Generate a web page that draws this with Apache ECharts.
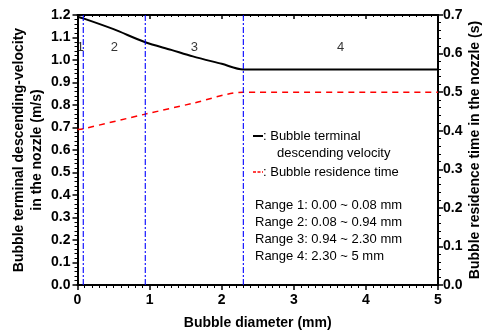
<!DOCTYPE html>
<html>
<head>
<meta charset="utf-8">
<script src="https://cdn.jsdelivr.net/npm/echarts@6/dist/echarts.min.js"></script>
<style>
  html, body { margin: 0; padding: 0; background: #fff; }
  #chart { width: 488px; height: 336px; }
</style>
</head>
<body>
<div id="chart"></div>
<script>
// Bubble diameter (mm) vs terminal descending velocity (m/s)
const velocityPoints = [
  [0, 1.192], [0.08, 1.185], [0.5, 1.137], [0.94, 1.079],
  [1.3, 1.045], [1.6, 1.016], [2.0, 0.983], [2.3, 0.958], [5, 0.958]
];
// Bubble diameter (mm) vs residence time in the nozzle (s)
const residencePoints = [
  [0, 0.403], [0.08, 0.405], [0.94, 0.443], [1.6, 0.471], [2.3, 0.5], [5, 0.5]
];
// Boundaries between diameter ranges (mm)
const rangeBounds = [0.08, 0.94, 2.3];
const rangeNames = ['1', '2', '3', '4'];
const rangeLabelY = 1.057;
const rangeLines = [
  'Range 1: 0.00 ~ 0.08 mm',
  'Range 2: 0.08 ~ 0.94 mm',
  'Range 3: 0.94 ~ 2.30 mm',
  'Range 4: 2.30 ~ 5 mm'
];

const FONT = 'Liberation Sans, Arial, sans-serif';
const edges = [0].concat(rangeBounds, [5]);
const rangeLabelData = rangeNames.map((n, i) => ({
  value: [(edges[i] + edges[i + 1]) / 2, rangeLabelY],
  name: n
}));

const chart = echarts.init(document.getElementById('chart'));

const graphics = [
  { type: 'line', shape: { x1: 253, y1: 136, x2: 263, y2: 136 }, style: { stroke: '#000', lineWidth: 2 } },
  { type: 'text', x: 263, y: 136, style: { text: ': Bubble terminal', font: '13px ' + FONT, fill: '#000', textVerticalAlign: 'middle' } },
  { type: 'text', x: 277, y: 153, style: { text: 'descending velocity', font: '13px ' + FONT, fill: '#000', textVerticalAlign: 'middle' } },
  { type: 'line', shape: { x1: 253, y1: 172, x2: 263, y2: 172 }, style: { stroke: '#ff0000', lineWidth: 1.5, lineDash: [3, 1.5] } },
  { type: 'text', x: 263, y: 172, style: { text: ': Bubble residence time', font: '13px ' + FONT, fill: '#000', textVerticalAlign: 'middle' } }
];
rangeLines.forEach((t, i) => {
  graphics.push({ type: 'text', x: 255, y: 205 + i * 17.2, style: { text: t, font: '13px ' + FONT, fill: '#000', textVerticalAlign: 'middle' } });
});

// vertical range boundaries, drawn as two-point line series
const boundarySeries = rangeBounds.map(b => ({
  type: 'line', xAxisIndex: 0, yAxisIndex: 0,
  data: [[b, 0], [b, 1.2]], symbol: 'none', silent: true,
  lineStyle: { color: '#0000ff', width: 1.1, type: [6, 2, 2, 2] }
}));

const labelStyle = { fontSize: 14, fontWeight: 'bold', color: '#000', fontFamily: FONT };
const nameStyle = { fontSize: 14, fontWeight: 'bold', color: '#000', fontFamily: FONT };

function makeAxis(extra) {
  return Object.assign({
    type: 'value',
    axisLine: { show: true, onZero: false, lineStyle: { color: '#000', width: 2 } },
    axisTick: { show: true, length: 5, lineStyle: { color: '#000', width: 1.5 } },
    minorTick: { show: true, splitNumber: 5, length: 3, lineStyle: { color: '#000', width: 1 } },
    splitLine: { show: false },
    nameMoveOverlap: false
  }, extra);
}

chart.setOption({
  animation: false,
  grid: { left: 77.5, right: 50, top: 15, bottom: 51, outerBoundsMode: 'none' },
  xAxis: [
    makeAxis({
      min: 0, max: 5, interval: 1, position: 'bottom',
      name: 'Bubble diameter (mm)', nameLocation: 'middle', nameGap: 31,
      nameTextStyle: nameStyle,
      minorTick: { show: true, splitNumber: 10, length: 3, lineStyle: { color: '#000', width: 1 } },
      axisLabel: Object.assign({ margin: 8 }, labelStyle)
    }),
    makeAxis({
      min: 0, max: 5, interval: 1, position: 'top',
      axisTick: { show: true, inside: true, length: 4, lineStyle: { color: '#000', width: 1.5 } },
      minorTick: { show: true, inside: true, splitNumber: 10, length: 2, lineStyle: { color: '#000', width: 1 } },
      axisLabel: { show: false }
    })
  ],
  yAxis: [
    makeAxis({
      min: 0, max: 1.2, interval: 0.1, position: 'left',
      name: 'Bubble terminal descending-velocity\nin the nozzle (m/s)',
      nameLocation: 'middle', nameGap: 31,
      nameTextStyle: Object.assign({ lineHeight: 18 }, nameStyle),
      axisLabel: Object.assign({ margin: 7, formatter: v => v.toFixed(1) }, labelStyle)
    }),
    makeAxis({
      min: 0, max: 0.7, interval: 0.1, position: 'right',
      name: 'Bubble residence time in the nozzle (s)',
      nameLocation: 'middle', nameGap: 30, nameRotate: 90,
      nameTextStyle: nameStyle,
      axisLabel: Object.assign({ margin: 5, formatter: v => v.toFixed(1) }, labelStyle)
    })
  ],
  series: [
    {
      name: 'Bubble terminal descending velocity',
      type: 'line', xAxisIndex: 0, yAxisIndex: 0,
      data: velocityPoints, smooth: 0.3, symbol: 'none',
      lineStyle: { color: '#000', width: 2 }
    },
    {
      name: 'Bubble residence time',
      type: 'line', xAxisIndex: 0, yAxisIndex: 1,
      data: residencePoints, smooth: 0.3, symbol: 'none',
      lineStyle: { color: '#ff0000', width: 1.5, type: [6, 5] }
    },
    {
      type: 'scatter', xAxisIndex: 0, yAxisIndex: 0,
      data: rangeLabelData, symbolSize: 0, silent: true,
      label: {
        show: true, position: 'inside', formatter: p => p.name,
        fontSize: 13, color: '#000', fontFamily: FONT
      }
    }
  ].concat(boundarySeries),
  graphic: graphics
});
</script>
</body>
</html>
